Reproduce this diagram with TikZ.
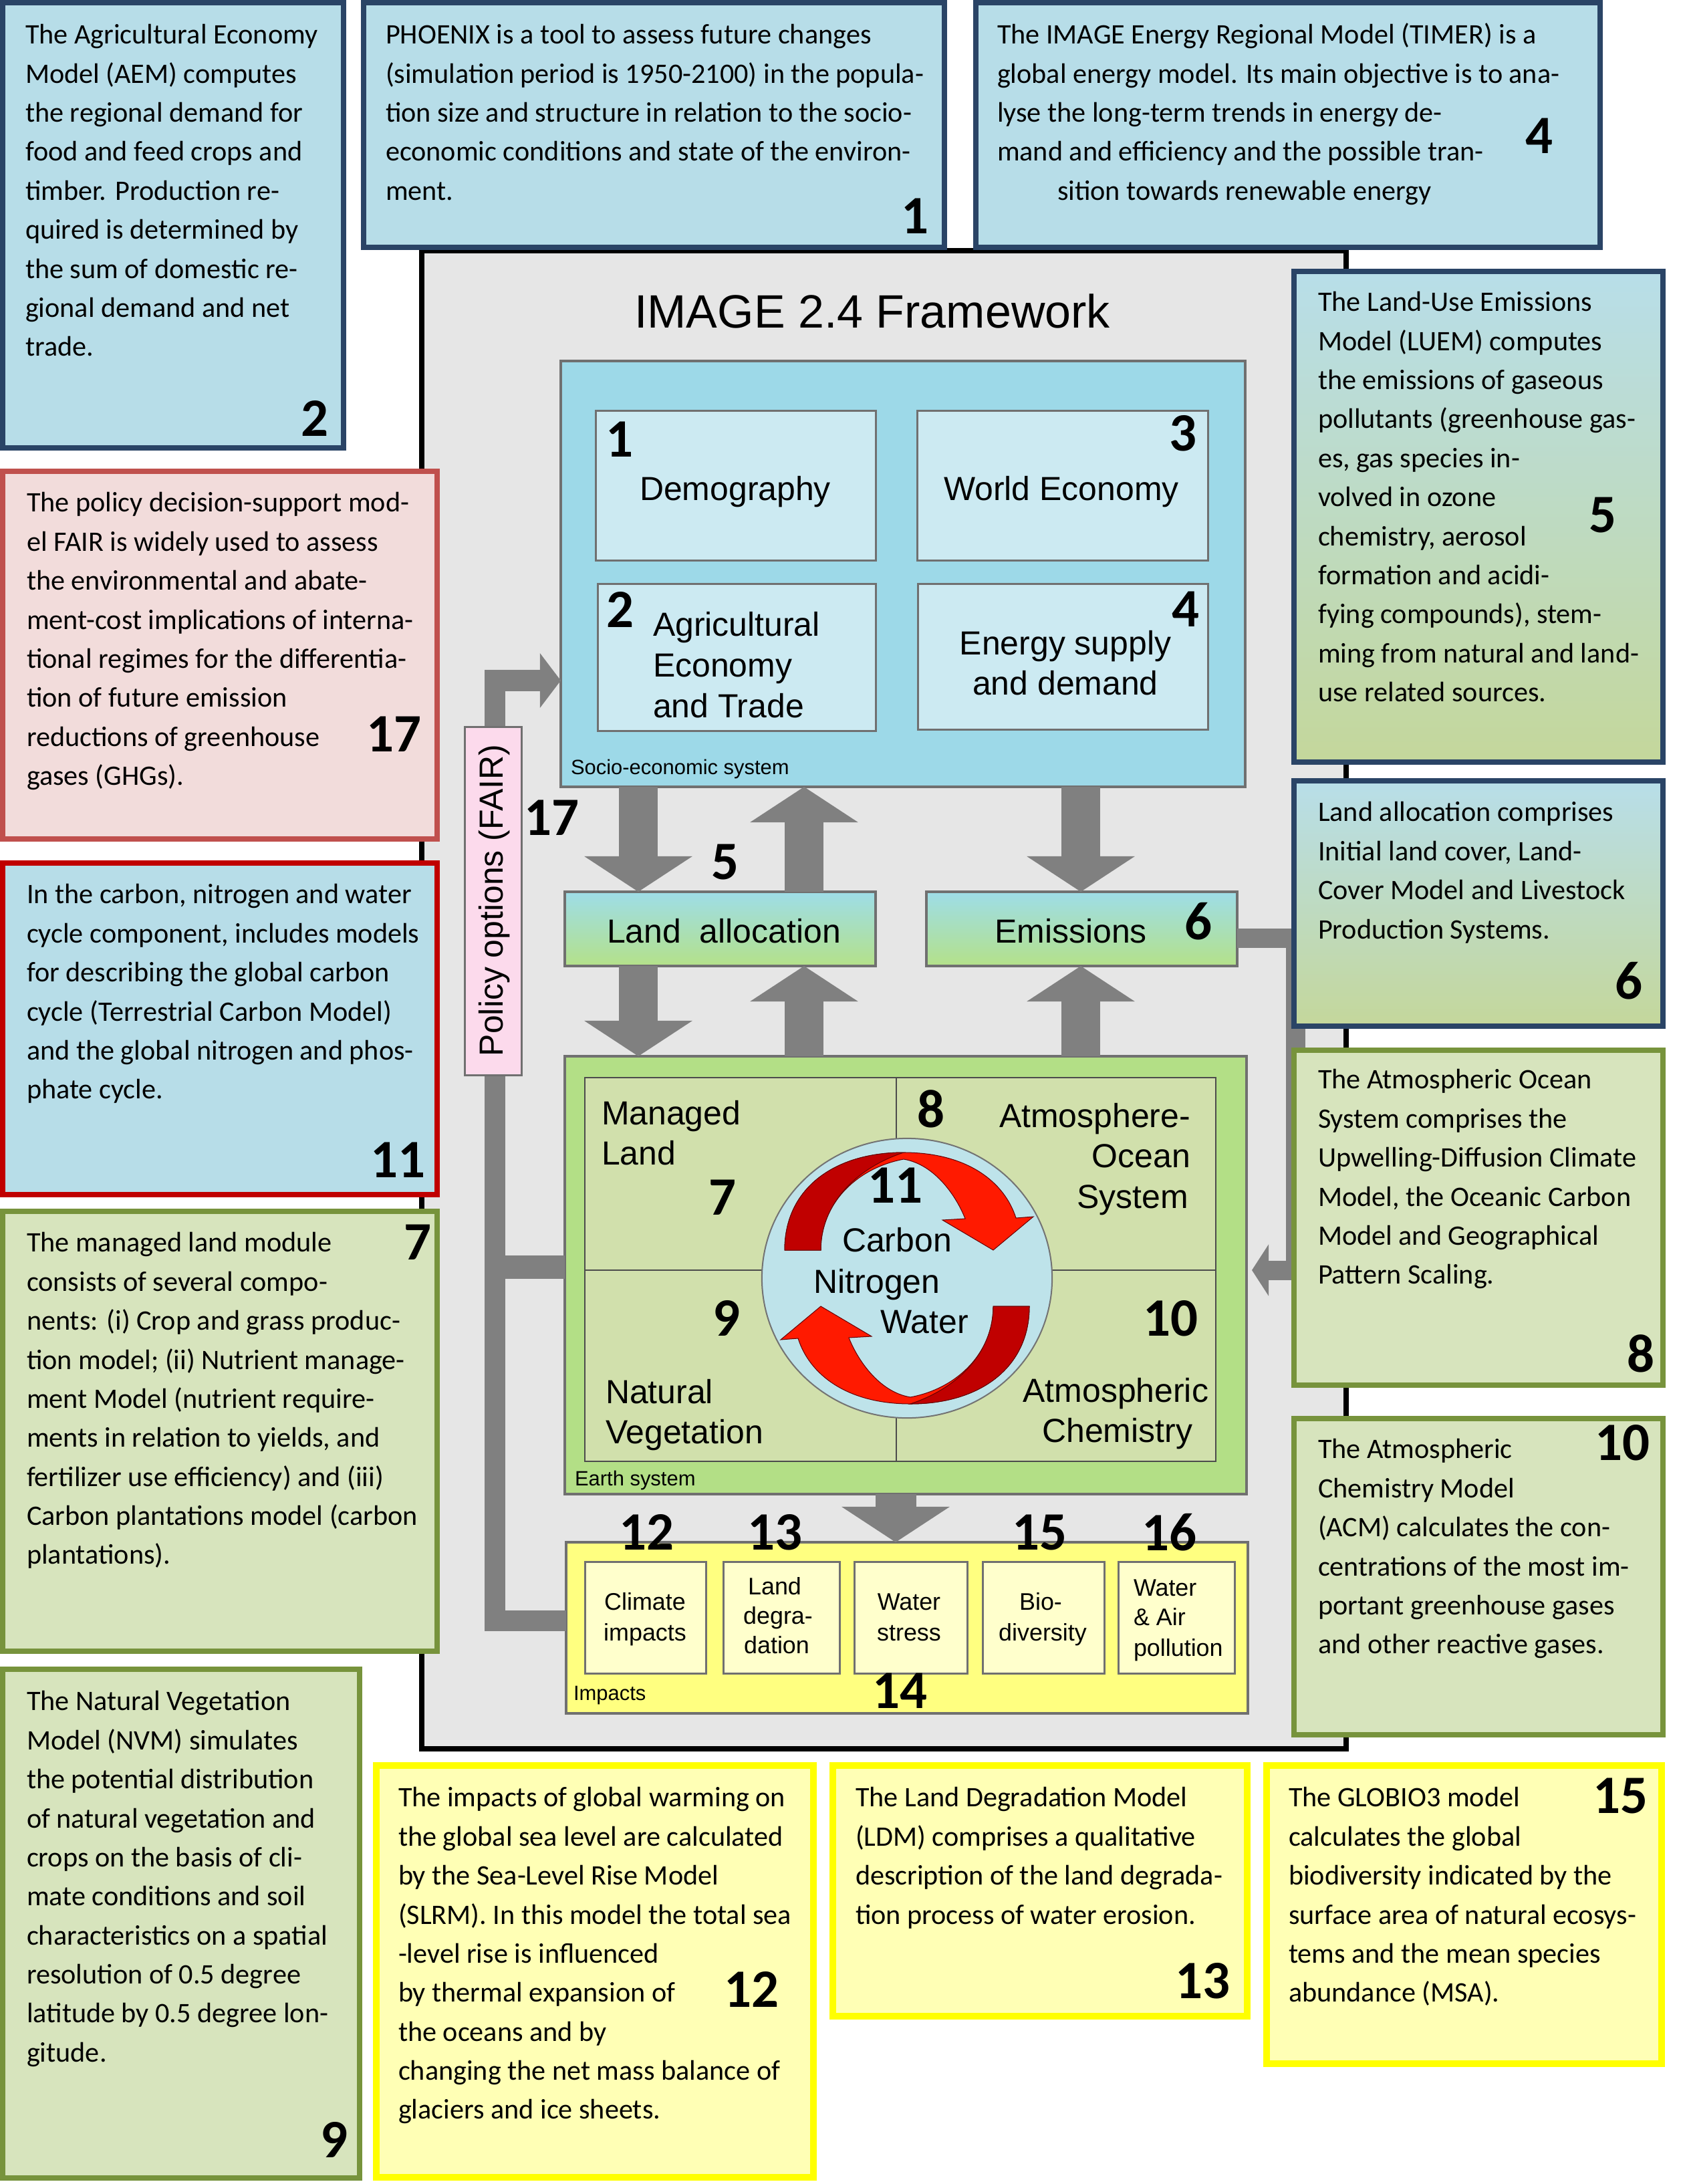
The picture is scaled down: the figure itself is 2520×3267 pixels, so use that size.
\documentclass[tikz,border=0pt]{standalone}
\usepackage{fontspec}
\setmainfont{Carlito}
\newfontfamily\arialf{Liberation Sans}
\usetikzlibrary{arrows.meta,fit,shapes.geometric}
\definecolor{navy}{HTML}{2A4466}
\definecolor{lblue}{HTML}{B7DDE8}
\definecolor{pinkf}{HTML}{F2DCDB}
\definecolor{pinkb}{HTML}{C0504D}
\definecolor{redb}{HTML}{C00000}
\definecolor{olivef}{HTML}{D7E4BD}
\definecolor{oliveb}{HTML}{77933C}
\definecolor{yellowf}{HTML}{FFFFB5}
\definecolor{yellowb}{HTML}{FFFF00}
\definecolor{framebg}{HTML}{E6E6E6}
\definecolor{sociof}{HTML}{9DD9E8}
\definecolor{socioin}{HTML}{CCEAF2}
\definecolor{earthg}{HTML}{B3DF86}
\definecolor{quadf}{HTML}{D1E0AC}
\definecolor{circf}{HTML}{BEE3EA}
\definecolor{impy}{HTML}{FFFF80}
\definecolor{impin}{HTML}{FFFFCC}
\definecolor{policyp}{HTML}{FCDAEC}
\definecolor{arrg}{HTML}{808080}
\definecolor{darkred}{HTML}{C00000}
\definecolor{brightred}{HTML}{FF1A00}
\definecolor{gradtop}{HTML}{B8DEE9}
\definecolor{gradmid}{HTML}{98BAC4}
\definecolor{gradbot}{HTML}{C4D79B}
\definecolor{latop}{HTML}{9EDDE8}
\definecolor{labot}{HTML}{B4E189}
\definecolor{boxline}{HTML}{707070}

\newcommand\cyclearrow{%
  \filldraw[fill=brightred, draw=red!40!black, line width=0.01cm]
    (1174,1870) .. controls (1174,1778) and (1248,1724) .. (1352,1724)
    .. controls (1447,1724) and (1503,1768) .. (1520,1822)
    -- (1546,1820) -- (1486,1870) -- (1410,1825) -- (1444,1823)
    .. controls (1432,1792) and (1400,1742) .. (1352,1734)
    .. controls (1282,1747) and (1228,1800) .. (1228,1870) -- cycle;
  \filldraw[fill=darkred, draw=red!40!black, line width=0.01cm]
    (1174,1870) .. controls (1174,1778) and (1248,1724) .. (1352,1724)
    .. controls (1282,1747) and (1228,1800) .. (1228,1870) -- cycle;
}

\tikzset{
  every node/.style={inner sep=0pt, outer sep=0pt},
  infobox/.style={rectangle, line width=0.08cm},
  txt/.style={anchor=north west, align=left, font=\fontsize{12}{16.6}\selectfont},
  num/.style={font=\fontsize{23}{23}\selectfont\bfseries},
  lab/.style={font=\arialf\fontsize{14.2}{17}\selectfont, anchor=base},
  smalllab/.style={font=\arialf\fontsize{8.8}{10}\selectfont, anchor=base west},
  implab/.style={font=\arialf\fontsize{10.2}{13}\selectfont, anchor=base},
  innerbox/.style={rectangle, draw=boxline, line width=0.03cm},
  bigarrow/.style={draw=arrg, line width=0.58cm, -{Triangle[width=1.59cm,length=0.53cm]}},
  graybar/.style={draw=arrg, line width=0.31cm, line join=miter},
}

\begin{document}
\begin{tikzpicture}[x=0.01cm,y=-0.01cm]
\useasboundingbox (0,0) rectangle (2520,3267);
\fill[white] (0,0) rectangle (2520,3267);

% ---------------- framework ----------------
\node[fit={(631,375)(2014,2616)}, draw=black, line width=0.08cm, fill=framebg] (frame) {};
\node[font=\arialf\fontsize{19.9}{22}\selectfont, anchor=base] (title) at (1305,491) {IMAGE 2.4 Framework};

% socio-economic system
\node[fit={(839,540)(1863,1177)}, rectangle, draw=boxline, line width=0.04cm, fill=sociof] (socio) {};
\node[innerbox, fill=socioin, fit={(891,614)(1310,838)}] (demo) {};
\node[innerbox, fill=socioin, fit={(1372,614)(1807,838)}] (weco) {};
\node[innerbox, fill=socioin, fit={(894,873)(1310,1093)}] (agri) {};
\node[innerbox, fill=socioin, fit={(1373,873)(1807,1091)}] (ener) {};
\node[lab] (demot) at (1100,748) {Demography};
\node[lab] (wecot) at (1588,748) {World Economy};
\node[lab, anchor=base west] (agri1) at (977,951) {Agricultural};
\node[lab, anchor=base west] (agri2) at (977,1012) {Economy};
\node[lab, anchor=base west] (agri3) at (977,1073) {and Trade};
\node[lab] (ener1) at (1594,979) {Energy supply};
\node[lab] (ener2) at (1594,1039) {and demand};
\node[smalllab] (sociot) at (854,1158) {Socio-economic system};
\node[num] (d1) at (927,657) {1};
\node[num] (d3) at (1770,648) {3};
\node[num] (d2) at (928,912) {2};
\node[num] (d4) at (1774,911) {4};

% land allocation / emissions
\node[fit={(845,1334)(1310,1445)}, rectangle, draw=boxline, line width=0.04cm, top color=latop, bottom color=labot] (la) {};
\node[fit={(1386,1334)(1851,1445)}, rectangle, draw=boxline, line width=0.04cm, top color=latop, bottom color=labot] (em) {};
\node[lab] (lat) at (1083,1410) {Land\ \ allocation};
\node[lab] (emt) at (1602,1410) {Emissions};
\node[num] (d5) at (1085,1290) {5};
\node[num] (d6) at (1793,1378) {6};
\node[num] (d17) at (825,1223) {17};

% earth system
\node[fit={(845,1580)(1865,2235)}, rectangle, draw=boxline, line width=0.04cm, fill=earthg] (earth) {};
\node[fit={(875,1612)(1819,2186)}, rectangle, draw=black!70, line width=0.025cm, fill=quadf] (quad) {};
\draw[black!70, line width=0.025cm] (quad.north -| 1341,0) -- (quad.south -| 1341,0);
\draw[black!70, line width=0.025cm] (quad.west |- 0,1900) -- (quad.east |- 0,1900);
\node[ellipse, draw=black!55, line width=0.02cm, fill=circf, minimum width=4.34cm, minimum height=4.18cm] (cyc) at (1357,1912) {};
\cyclearrow
\begin{scope}[rotate around={180:(1357,1912)}]
\cyclearrow
\end{scope}
\node[lab, anchor=base west] (ml1) at (900,1682) {Managed};
\node[lab, anchor=base west] (ml2) at (900,1742) {Land};
\node[lab, anchor=base east] (ao1) at (1781,1686) {Atmosphere-};
\node[lab, anchor=base east] (ao2) at (1781,1746) {Ocean};
\node[lab, anchor=base east] (ao3) at (1778,1807) {System};
\node[lab, anchor=base west] (nv1) at (906,2099) {Natural};
\node[lab, anchor=base west] (nv2) at (906,2159) {Vegetation};
\node[lab, anchor=base east] (ac1) at (1808,2097) {Atmospheric};
\node[lab, anchor=base east] (ac2) at (1784,2157) {Chemistry};
\node[lab] (cw1) at (1342,1872) {Carbon};
\node[lab] (cw2) at (1312,1934) {Nitrogen};
\node[lab] (cw3) at (1383,1994) {Water};
\node[smalllab] (eartht) at (860,2222) {Earth system};
\node[num] (d7) at (1081,1791) {7};
\node[num] (d8) at (1393,1659) {8};
\node[num] (d11) at (1339,1773) {11};
\node[num] (d9) at (1087,1972) {9};
\node[num] (d10) at (1751,1972) {10};

% impacts
\node[fit={(847,2307)(1867,2563)}, rectangle, draw=boxline, line width=0.04cm, fill=impy] (imp) {};
\node[innerbox, fill=impin, fit={(875,2336)(1056,2503)}] (i1) {};
\node[innerbox, fill=impin, fit={(1082,2336)(1256,2503)}] (i2) {};
\node[innerbox, fill=impin, fit={(1278,2336)(1447,2503)}] (i3) {};
\node[innerbox, fill=impin, fit={(1470,2336)(1652,2503)}] (i4) {};
\node[innerbox, fill=impin, fit={(1673,2336)(1847,2503)}] (i5) {};
\node[implab] (i1a) at (965,2408) {Climate};
\node[implab] (i1b) at (965,2454) {impacts};
\node[implab] (i2a) at (1159,2385) {Land};
\node[implab] (i2b) at (1164,2429) {degra-};
\node[implab] (i2c) at (1162,2473) {dation};
\node[implab] (i3a) at (1360,2408) {Water};
\node[implab] (i3b) at (1360,2454) {stress};
\node[implab] (i4a) at (1557,2408) {Bio-};
\node[implab] (i4b) at (1560,2454) {diversity};
\node[implab, anchor=base west] (i5a) at (1696,2387) {Water};
\node[implab, anchor=base west] (i5b) at (1696,2431) {\& Air};
\node[implab, anchor=base west] (i5c) at (1696,2477) {pollution};
\node[smalllab] (impt) at (858,2543) {Impacts};
\node[num] (d12) at (967,2292) {12};
\node[num] (d13) at (1159,2292) {13};
\node[num] (d15) at (1555,2292) {15};
\node[num] (d16) at (1749,2292) {16};
\node[num] (d14) at (1346,2529) {14};

% big gray arrows
\draw[bigarrow] (socio.south -| 955,0) -- (la.north -| 955,0);
\draw[bigarrow] (la.north -| 1203,0) -- (socio.south -| 1203,0);
\draw[bigarrow] (socio.south -| 1617,0) -- (em.north -| 1617,0);
\draw[bigarrow] (la.south -| 955,0) -- (earth.north -| 955,0);
\draw[bigarrow] (earth.north -| 1203,0) -- (la.south -| 1203,0);
\draw[bigarrow] (earth.north -| 1617,0) -- (em.south -| 1617,0);
\draw[bigarrow, line width=0.61cm] (earth.south -| 1340,0) -- (imp.north -| 1340,0);

% policy options connector
\draw[graybar, -{Triangle[width=0.8cm,length=0.31cm]}] (imp.west |- 0,2424) -- (740,2424) -- (740,1018) -- (socio.west |- 0,1018);
\draw[graybar, line width=0.35cm] (740,1895) -- (earth.west |- 0,1895);
\node[fit={(695,1087)(780,1608)}, rectangle, draw=boxline, line width=0.03cm, fill=policyp] (policy) {};
\node[font=\arialf\fontsize{14.2}{17}\selectfont, rotate=90] (policyt) at (740,1347) {Policy options (FAIR)};

% emissions -> atmosphere-ocean connector
\coordinate (atmoin) at (1873,1900);
\draw[graybar, line width=0.29cm, -{Triangle[width=0.76cm,length=0.25cm]}] (em.east |- 0,1403) -- (1938,1403) -- (1938,1900) -- (atmoin);

% ---------------- outer text boxes ----------------
% 2 AEM
\node[infobox, draw=navy, fill=lblue, fit={(4,4)(514,670)}] (aem) {};
\node[txt] (aemt) at (38,25) {\strut The Agricultural Economy\\Model (AEM) computes\\the regional demand for\\food and feed crops and\\timber. Production re-\\quired is determined by\\the sum of domestic re-\\gional demand and net\\trade.};
\node[num] (n2) at (471,626) {2};

% 1 PHOENIX
\node[infobox, draw=navy, fill=lblue, fit={(544,4)(1413,370)}] (phx) {};
\node[txt] (phxt) at (577,25) {\strut PHOENIX is a tool to assess future changes\\(simulation period is 1950-2100) in the popula-\\tion size and structure in relation to the socio-\\economic conditions and state of the environ-\\ment.};
\node[num] (n1) at (1369,323) {1};

% 4 TIMER
\node[infobox, draw=navy, fill=lblue, fit={(1460,4)(2394,370)}] (timer) {};
\node[txt] (timert) at (1492,25) {\strut The IMAGE Energy Regional Model (TIMER) is a\\global energy model. Its main objective is to ana-\\lyse the long-term trends in energy de-\\mand and efficiency and the possible tran-\\\hspace*{0.9cm}sition towards renewable energy};
\node[num] (n4) at (2303,203) {4};

% 5 LUEM
\node[infobox, draw=navy, top color=gradtop, middle color=gradmid, bottom color=gradbot, fit={(1936,406)(2488,1140)}] (luem) {};
\node[txt] (luemt) at (1972,425) {\strut The Land-Use Emissions\\Model (LUEM) computes\\the emissions of gaseous\\pollutants (greenhouse gas-\\es, gas species in-\\volved in ozone\\chemistry, aerosol\\formation and acidi-\\fying compounds), stem-\\ming from natural and land-\\use related sources.};
\node[num] (n5) at (2398,771) {5};

% 6 land allocation
\node[infobox, draw=navy, top color=gradtop, middle color=gradmid, bottom color=gradbot, fit={(1936,1168)(2488,1535)}] (lalloc) {};
\node[txt] (lallt) at (1972,1188) {\strut Land allocation comprises\\Initial land cover, Land-\\Cover Model and Livestock\\Production Systems.};
\node[num] (n6) at (2437,1467) {6};

% 8 atmosphere ocean
\node[infobox, draw=oliveb, fill=olivef, fit={(1936,1571)(2488,2072)}] (aos) {};
\node[txt] (aost) at (1972,1588) {\strut The Atmospheric Ocean\\System comprises the\\Upwelling-Diffusion Climate\\Model, the Oceanic Carbon\\Model and Geographical\\Pattern Scaling.};
\node[num] (n8) at (2455,2025) {8};

% 10 ACM
\node[infobox, draw=oliveb, fill=olivef, fit={(1936,2122)(2488,2595)}] (acm) {};
\node[txt] (acmt) at (1972,2141) {\strut The Atmospheric\\Chemistry Model\\(ACM) calculates the con-\\centrations of the most im-\\portant greenhouse gases\\and other reactive gases.};
\node[num] (n10) at (2427,2158) {10};

% 17 FAIR
\node[infobox, draw=pinkb, fill=pinkf, fit={(4,705)(654,1255)}] (fair) {};
\node[txt] (fairt) at (40,725) {\strut The policy decision-support mod-\\el FAIR is widely used to assess\\the environmental and abate-\\ment-cost implications of interna-\\tional regimes for the differentia-\\tion of future emission\\reductions of greenhouse\\gases (GHGs).};
\node[num] (n17) at (589,1098) {17};

% 11 carbon nitrogen water
\node[infobox, draw=redb, fill=lblue, fit={(4,1291)(654,1787)}] (cnw) {};
\node[txt] (cnwt) at (40,1311) {\strut In the carbon, nitrogen and water\\cycle component, includes models\\for describing the global carbon\\cycle (Terrestrial Carbon Model)\\and the global nitrogen and phos-\\phate cycle.};
\node[num] (n11) at (595,1735) {11};

% 7 managed land
\node[infobox, draw=oliveb, fill=olivef, fit={(4,1812)(654,2470)}] (mland) {};
\node[txt] (mlandt) at (40,1832) {\strut The managed land module\\consists of several compo-\\nents: (i) Crop and grass produc-\\tion model; (ii) Nutrient manage-\\ment Model (nutrient require-\\ments in relation to yields, and\\fertilizer use efficiency) and (iii)\\Carbon plantations model (carbon\\plantations).};
\node[num] (n7) at (625,1858) {7};

% 9 natural vegetation
\node[infobox, draw=oliveb, fill=olivef, fit={(4,2497)(538,3258)}] (nveg) {};
\node[txt] (nvegt) at (40,2518) {\strut The Natural Vegetation\\Model (NVM) simulates\\the potential distribution\\of natural vegetation and\\crops on the basis of cli-\\mate conditions and soil\\characteristics on a spatial\\resolution of 0.5 degree\\latitude by 0.5 degree lon-\\gitude.};
\node[num] (n9) at (500,3201) {9};

% 12 sea level
\node[infobox, line width=0.1cm, draw=yellowb, fill=yellowf, fit={(563,2641)(1217,3257)}] (slr) {};
\node[txt] (slrt) at (596,2662) {\strut The impacts of global warming on\\the global sea level are calculated\\by the Sea-Level Rise Model\\(SLRM). In this model the total sea\\-level rise is influenced\\by thermal expansion of\\the oceans and by\\changing the net mass balance of\\glaciers and ice sheets.};
\node[num] (n12) at (1124,2976) {12};

% 13 land degradation
\node[infobox, line width=0.1cm, draw=yellowb, fill=yellowf, fit={(1246,2641)(1866,3016)}] (ldm) {};
\node[txt] (ldmt) at (1280,2662) {\strut The Land Degradation Model\\(LDM) comprises a qualitative\\description of the land degrada-\\tion process of water erosion.};
\node[num] (n13) at (1799,2963) {13};

% 15 GLOBIO3
\node[infobox, line width=0.1cm, draw=yellowb, fill=yellowf, fit={(1895,2641)(2486,3087)}] (glob) {};
\node[txt] (globt) at (1928,2662) {\strut The GLOBIO3 model\\calculates the global\\biodiversity indicated by the\\surface area of natural ecosys-\\tems and the mean species\\abundance (MSA).};
\node[num] (n15) at (2424,2686) {15};

\end{tikzpicture}
\end{document}
